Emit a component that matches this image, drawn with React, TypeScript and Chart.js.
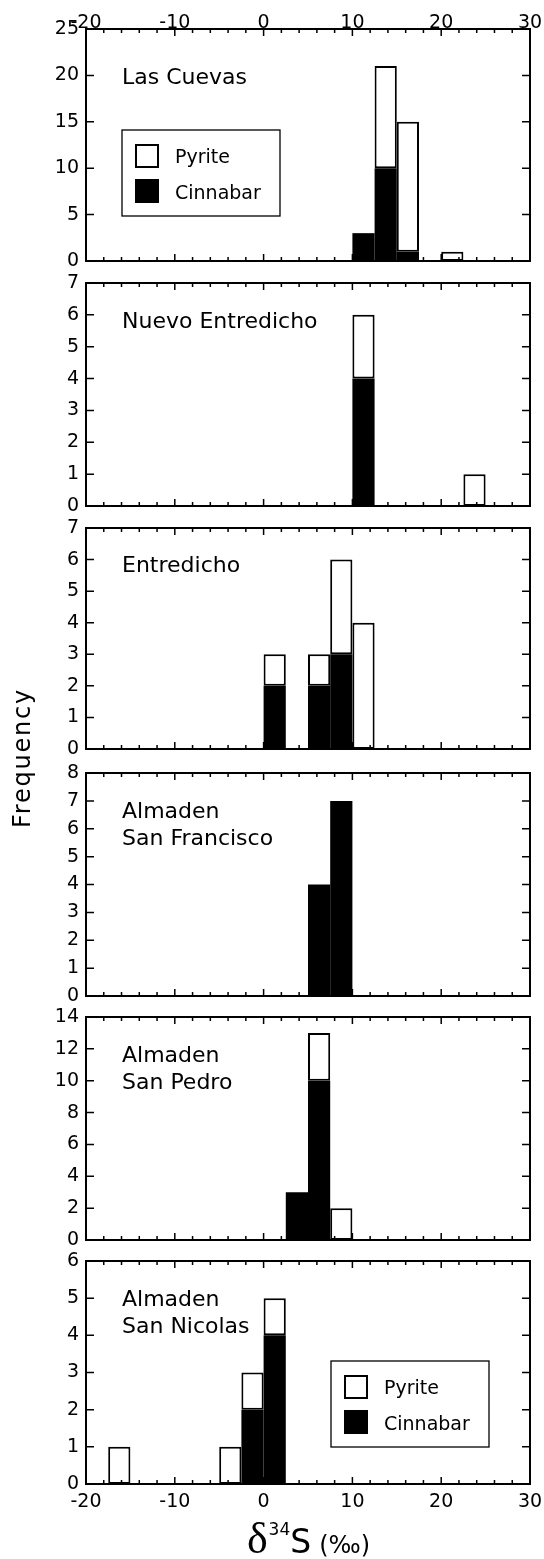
import React, { useEffect, useRef } from "react";
import { Chart, registerables } from "chart.js";

Chart.register(...registerables);
Chart.defaults.font.family = '"DejaVu Sans", sans-serif';
Chart.defaults.color = "#000";

// ---------- DATA ----------
// bins of 2.5 permil from -20 to 30 (centres)
const BIN_WIDTH = 2.5;
const BIN_CENTERS = [
  -18.75, -16.25, -13.75, -11.25, -8.75, -6.25, -3.75, -1.25, 1.25, 3.75,
  6.25, 8.75, 11.25, 13.75, 16.25, 18.75, 21.25, 23.75, 26.25, 28.75,
];

const PANEL_NAMES = [
  ["Las Cuevas"],
  ["Nuevo Entredicho"],
  ["Entredicho"],
  ["Almaden", "San Francisco"],
  ["Almaden", "San Pedro"],
  ["Almaden", "San Nicolas"],
];

const Y_MAX = [25, 7, 7, 8, 14, 6];
const Y_STEP = [5, 1, 1, 1, 2, 1];
const X_MIN = -20;
const X_MAX = 30;
const X_MINOR_STEP = 2;
const X_LABEL_EVERY = 10;

const SERIES_NAMES = ["Pyrite", "Cinnabar"];

const LAS_CUEVAS_CINNABAR = [0, 0, 0, 0, 0, 0, 0, 0, 0, 0, 0, 0, 3, 10, 1, 0, 0, 0, 0, 0];
const LAS_CUEVAS_PYRITE = [0, 0, 0, 0, 0, 0, 0, 0, 0, 0, 0, 0, 0, 11, 14, 0, 1, 0, 0, 0];

const NUEVO_ENTREDICHO_CINNABAR = [0, 0, 0, 0, 0, 0, 0, 0, 0, 0, 0, 0, 4, 0, 0, 0, 0, 0, 0, 0];
const NUEVO_ENTREDICHO_PYRITE = [0, 0, 0, 0, 0, 0, 0, 0, 0, 0, 0, 0, 2, 0, 0, 0, 0, 1, 0, 0];

const ENTREDICHO_CINNABAR = [0, 0, 0, 0, 0, 0, 0, 0, 2, 0, 2, 3, 0, 0, 0, 0, 0, 0, 0, 0];
const ENTREDICHO_PYRITE = [0, 0, 0, 0, 0, 0, 0, 0, 1, 0, 1, 3, 4, 0, 0, 0, 0, 0, 0, 0];

const SAN_FRANCISCO_CINNABAR = [0, 0, 0, 0, 0, 0, 0, 0, 0, 0, 4, 7, 0, 0, 0, 0, 0, 0, 0, 0];
const SAN_FRANCISCO_PYRITE = [0, 0, 0, 0, 0, 0, 0, 0, 0, 0, 0, 0, 0, 0, 0, 0, 0, 0, 0, 0];

const SAN_PEDRO_CINNABAR = [0, 0, 0, 0, 0, 0, 0, 0, 0, 3, 10, 0, 0, 0, 0, 0, 0, 0, 0, 0];
const SAN_PEDRO_PYRITE = [0, 0, 0, 0, 0, 0, 0, 0, 0, 0, 3, 2, 0, 0, 0, 0, 0, 0, 0, 0];

const SAN_NICOLAS_CINNABAR = [0, 0, 0, 0, 0, 0, 0, 2, 4, 0, 0, 0, 0, 0, 0, 0, 0, 0, 0, 0];
const SAN_NICOLAS_PYRITE = [0, 1, 0, 0, 0, 0, 1, 1, 1, 0, 0, 0, 0, 0, 0, 0, 0, 0, 0, 0];

const CINNABAR = [
  LAS_CUEVAS_CINNABAR,
  NUEVO_ENTREDICHO_CINNABAR,
  ENTREDICHO_CINNABAR,
  SAN_FRANCISCO_CINNABAR,
  SAN_PEDRO_CINNABAR,
  SAN_NICOLAS_CINNABAR,
];
const PYRITE = [
  LAS_CUEVAS_PYRITE,
  NUEVO_ENTREDICHO_PYRITE,
  ENTREDICHO_PYRITE,
  SAN_FRANCISCO_PYRITE,
  SAN_PEDRO_PYRITE,
  SAN_NICOLAS_PYRITE,
];

// ---------- LAYOUT ----------
const PAGE_W = 544;
const PAGE_H = 1559;
const PLOT_LEFT = 86;
const PLOT_RIGHT = 530;
const PANEL_GEOM = [
  { top: 29, bottom: 261, labelBase: [55], legendTop: 101 },
  { top: 283, bottom: 506, labelBase: [45] },
  { top: 528, bottom: 749, labelBase: [44] },
  { top: 773, bottom: 996, labelBase: [45, 72] },
  { top: 1017, bottom: 1240, labelBase: [44.5, 72] },
  { top: 1261, bottom: 1484, labelBase: [45, 72], legendTop: 100 },
];
const LEGEND_LEFT = [122, 0, 0, 0, 0, 331];
const FONT = '"DejaVu Sans"';

function makeDeco(idx: number) {
  const g = PANEL_GEOM[idx];
  return {
    id: "deco" + idx,
    afterDatasetsDraw(chart: any) {
      const { ctx, chartArea: a } = chart;
      const x = chart.scales.x;
      const y = chart.scales.y;
      ctx.save();
      ctx.strokeStyle = "#000";
      ctx.fillStyle = "#000";
      // inward ticks
      ctx.lineWidth = 1.5;
      ctx.beginPath();
      x.ticks.forEach((t: any) => {
        const px = x.getPixelForValue(t.value);
        const len = t.value % X_LABEL_EVERY === 0 ? 7 : 4;
        ctx.moveTo(px, a.bottom);
        ctx.lineTo(px, a.bottom - len);
        ctx.moveTo(px, a.top);
        ctx.lineTo(px, a.top + len);
      });
      y.ticks.forEach((t: any) => {
        const py = y.getPixelForValue(t.value);
        ctx.moveTo(a.left, py);
        ctx.lineTo(a.left + 8, py);
        ctx.moveTo(a.right, py);
        ctx.lineTo(a.right - 8, py);
      });
      ctx.stroke();
      // frame
      ctx.lineWidth = 2;
      ctx.strokeRect(a.left, a.top, a.right - a.left, a.bottom - a.top);

      // panel name
      ctx.font = "22px " + FONT;
      ctx.textAlign = "left";
      ctx.textBaseline = "alphabetic";
      PANEL_NAMES[idx].forEach((ln, i) => {
        ctx.fillText(ln, 122, a.top + g.labelBase[i]);
      });

      // legend
      if (g.legendTop !== undefined) {
        const bx = LEGEND_LEFT[idx];
        const by = a.top + g.legendTop;
        ctx.lineWidth = 1.3;
        ctx.strokeRect(bx, by, 158, 86);
        ctx.lineWidth = 2;
        ctx.fillStyle = "#fff";
        ctx.fillRect(bx + 14, by + 15, 22, 22);
        ctx.strokeRect(bx + 14, by + 15, 22, 22);
        ctx.fillStyle = "#000";
        ctx.fillRect(bx + 13, by + 49, 24, 24);
        ctx.font = "19px " + FONT;
        ctx.fillText(SERIES_NAMES[0], bx + 53, by + 33);
        ctx.fillText(SERIES_NAMES[1], bx + 53, by + 69);
      }

      // x title
      if (idx === 5) {
        const base = a.bottom + 69;
        ctx.font = '44px "Liberation Serif"';
        const wD = ctx.measureText("δ").width;
        ctx.font = "17px " + FONT;
        const w34 = ctx.measureText("34").width;
        ctx.font = "33px " + FONT;
        const wS = ctx.measureText("S").width;
        ctx.font = "24px " + FONT;
        const wP = ctx.measureText("(‰)").width;
        const gap = 8;
        const total = wD + w34 + wS + gap + wP;
        let xx = (PLOT_LEFT + PLOT_RIGHT) / 2 - total / 2;
        ctx.font = '44px "Liberation Serif"';
        ctx.fillText("δ", xx, base);
        xx += wD + 1;
        ctx.font = "17px " + FONT;
        ctx.fillText("34", xx, base - 18);
        xx += w34;
        ctx.font = "33px " + FONT;
        ctx.fillText("S", xx, base);
        xx += wS + gap;
        ctx.font = "24px " + FONT;
        ctx.fillText("(‰)", xx, base);
      }
      ctx.restore();
    },
  };
}

function Panel({ idx }: { idx: number }) {
  const ref = useRef<HTMLCanvasElement>(null);
  const g = PANEL_GEOM[idx];
  const canvasTop = idx === 0 ? 0 : g.top - 16;
  const canvasBottom = idx === 5 ? PAGE_H : g.bottom + 16;
  const h = canvasBottom - canvasTop;

  useEffect(() => {
    // empty bins are left out so that no zero-height bars are drawn
    const toPts = (arr: number[]) =>
      BIN_CENTERS.map((c, i) => ({ x: c, y: arr[i] })).filter((p) => p.y > 0);
    // the bar ruler uses the minor tick spacing (X_MINOR_STEP); widen bars to one full bin
    const catPct = BIN_WIDTH / X_MINOR_STEP;
    const chart = new Chart(ref.current as HTMLCanvasElement, {
      type: "bar",
      data: {
        datasets: [
          {
            label: SERIES_NAMES[1],
            data: toPts(CINNABAR[idx]),
            backgroundColor: "#000",
            borderColor: "#000",
            borderWidth: 0,
            borderSkipped: false,
            barPercentage: 1,
            categoryPercentage: catPct,
          },
          {
            label: SERIES_NAMES[0],
            data: toPts(PYRITE[idx]),
            backgroundColor: "#fff",
            borderColor: "#000",
            borderWidth: 2,
            borderSkipped: false,
            barPercentage: 1,
            categoryPercentage: catPct,
          },
        ],
      },
      options: {
        responsive: false,
        animation: false,
        layout: {
          padding: {
            left: 0,
            right: PAGE_W - PLOT_RIGHT,
            top: idx === 0 ? 0 : g.top - canvasTop,
            bottom: idx === 5 ? 0 : canvasBottom - g.bottom,
          },
        },
        plugins: {
          legend: { display: false },
          tooltip: { enabled: false },
        },
        scales: {
          x: {
            type: "linear",
            position: idx === 0 ? "top" : "bottom",
            min: X_MIN,
            max: X_MAX,
            offset: false,
            stacked: true,
            grid: { display: false, drawTicks: false, offset: false },
            border: { display: false },
            ticks: {
              display: idx === 0 || idx === 5,
              stepSize: X_MINOR_STEP,
              autoSkip: false,
              maxRotation: 0,
              minRotation: 0,
              padding: idx === 0 ? -2 : 10.5,
              font: { size: 19, lineHeight: 0.8 },
              color: "#000",
              callback: (v: any) => (Number(v) % X_LABEL_EVERY === 0 ? String(v) : ""),
            },
            afterFit: (s: any) => {
              s.height = idx === 0 ? g.top : idx === 5 ? PAGE_H - g.bottom : 0;
              s.paddingLeft = 0;
              s.paddingRight = 0;
            },
          },
          y: {
            type: "linear",
            min: 0,
            max: Y_MAX[idx],
            stacked: true,
            grid: { display: false, drawTicks: false },
            border: { display: false },
            ticks: { stepSize: Y_STEP[idx], padding: 7, font: { size: 19 }, color: "#000" },
            afterFit: (s: any) => {
              s.width = PLOT_LEFT;
              s.paddingTop = 0;
              s.paddingBottom = 0;
            },
          },
        },
      } as any,
      plugins: [makeDeco(idx)],
    });
    return () => chart.destroy();
  }, []);

  return (
    <canvas
      ref={ref}
      width={PAGE_W}
      height={h}
      style={{ position: "absolute", left: 0, top: canvasTop, width: PAGE_W, height: h }}
    />
  );
}

export default function App() {
  return (
    <div
      style={{
        position: "absolute",
        left: 0,
        top: 0,
        width: PAGE_W,
        height: PAGE_H,
        background: "#fff",
        overflow: "hidden",
      }}
    >
      {[0, 1, 2, 3, 4, 5].map((i) => (
        <Panel key={i} idx={i} />
      ))}
      <div
        style={{
          position: "absolute",
          left: 22 - 110,
          top: 758 - 15,
          width: 220,
          height: 30,
          lineHeight: "30px",
          textAlign: "center",
          fontFamily: FONT,
          fontSize: 24,
          letterSpacing: "1.8px",
          color: "#000",
          transform: "rotate(-90deg)",
          whiteSpace: "nowrap",
        }}
      >
        Frequency
      </div>
    </div>
  );
}
